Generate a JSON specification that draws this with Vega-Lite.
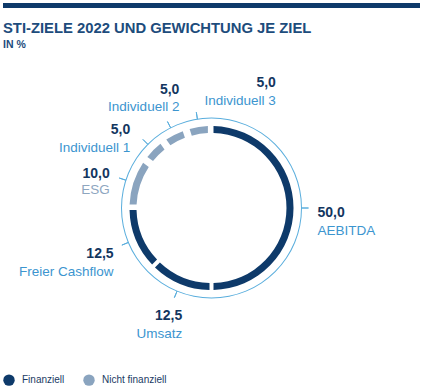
{
  "$schema": "https://vega.github.io/schema/vega-lite/v6.json",
  "background": "white",
  "padding": {"left": 3, "top": 3, "right": 0, "bottom": 0},
  "spacing": 12,
  "config": {
    "view": {"stroke": null},
    "font": "Liberation Sans",
    "locale": {"number": {"decimal": ",", "thousands": ".", "grouping": [3], "currency": ["", " €"]}}
  },
  "datasets": {
    "ziele": [
      {"nr": 1, "ziel": "AEBITDA", "wert": 50.0, "art": "Finanziell"},
      {"nr": 2, "ziel": "Umsatz", "wert": 12.5, "art": "Finanziell"},
      {"nr": 3, "ziel": "Freier Cashflow", "wert": 12.5, "art": "Finanziell"},
      {"nr": 4, "ziel": "ESG", "wert": 10.0, "art": "Nicht finanziell"},
      {"nr": 5, "ziel": "Individuell 1", "wert": 5.0, "art": "Nicht finanziell"},
      {"nr": 6, "ziel": "Individuell 2", "wert": 5.0, "art": "Nicht finanziell"},
      {"nr": 7, "ziel": "Individuell 3", "wert": 5.0, "art": "Nicht finanziell"}
    ]
  },
  "vconcat": [
    {
      "width": 417,
      "height": 5,
      "data": {"values": [{"balken": 1}]},
      "mark": {"type": "rect", "color": "#0e3a6a"},
      "encoding": {}
    },
    {
      "width": 417,
      "height": 308,
      "data": {"name": "ziele"},
      "title": {
        "text": "STI-ZIELE 2022 UND GEWICHTUNG JE ZIEL",
        "subtitle": "IN %",
        "anchor": "start",
        "frame": "group",
        "fontSize": 14.8,
        "fontWeight": "bold",
        "color": "#1d4c7c",
        "subtitleFontSize": 10.5,
        "subtitleFontWeight": "bold",
        "subtitleColor": "#1d4c7c",
        "subtitlePadding": 4,
        "offset": 4
      },
      "transform": [
        {"window": [{"op": "sum", "field": "wert", "as": "ende"}], "sort": [{"field": "nr"}], "frame": [null, 0]},
        {"calculate": "datum.ende - datum.wert", "as": "start"},
        {"calculate": "datum.ende - datum.wert / 2", "as": "mitte"}
      ],
      "layer": [
        {
          "transform": [{"aggregate": [{"op": "sum", "field": "wert", "as": "summe"}]}],
          "mark": {"type": "arc", "innerRadius": 89.5, "outerRadius": 90.5, "fill": "#5aaedd"},
          "encoding": {
            "theta": {"field": "summe", "type": "quantitative", "scale": {"domain": [0, 100]}}
          }
        },
        {
          "transform": [{"filter": "datum.art == 'Finanziell'"}],
          "mark": {"type": "arc", "innerRadius": 75, "outerRadius": 82, "padAngle": 0.036},
          "encoding": {
            "theta": {"field": "start", "type": "quantitative", "stack": null, "scale": {"domain": [0, 100]}},
            "theta2": {"field": "ende"},
            "color": {
              "field": "art",
              "type": "nominal",
              "scale": {"domain": ["Finanziell", "Nicht finanziell"], "range": ["#0e3a6a", "#8aa4bf"]},
              "legend": {
                "orient": "none",
                "legendX": 0,
                "legendY": 371,
                "direction": "horizontal",
                "title": null,
                "padding": 0,
                "symbolType": "circle",
                "symbolSize": 130,
                "symbolStrokeWidth": 0,
                "labelFontSize": 10,
                "labelColor": "#1a3a63",
                "labelOffset": 7,
                "columnPadding": 18
              }
            }
          }
        },
        {
          "transform": [{"filter": "datum.art == 'Nicht finanziell'"}],
          "mark": {"type": "arc", "innerRadius": 75, "outerRadius": 82, "padAngle": 0.065},
          "encoding": {
            "theta": {"field": "start", "type": "quantitative", "stack": null, "scale": {"domain": [0, 100]}},
            "theta2": {"field": "ende"},
            "color": {"field": "art", "type": "nominal"}
          }
        },
        {
          "mark": {"type": "arc", "innerRadius": 90, "outerRadius": 97, "fillOpacity": 0, "stroke": "#5aaedd", "strokeWidth": 1},
          "encoding": {
            "theta": {"field": "mitte", "type": "quantitative", "stack": null, "scale": {"domain": [0, 100]}},
            "theta2": {"field": "mitte"}
          }
        },
        {
          "mark": {
            "type": "text",
            "radius": 100,
            "fontSize": 14,
            "fontWeight": "bold",
            "baseline": "middle",
            "color": "#13365f",
            "align": {"expr": "datum.ziel == 'AEBITDA' ? 'left' : 'right'"},
            "dx": {"expr": "datum.ziel == 'AEBITDA' ? 6 : datum.ziel == 'Umsatz' ? 9 : datum.ziel == 'Freier Cashflow' ? -5.5 : datum.ziel == 'ESG' ? -6.6 : datum.ziel == 'Individuell 1' ? -10.5 : datum.ziel == 'Individuell 2' ? 13.3 : 80"},
            "dy": {"expr": "datum.ziel == 'AEBITDA' ? 5 : datum.ziel == 'Umsatz' ? 15.4 : datum.ziel == 'Freier Cashflow' ? 7.8 : datum.ziel == 'ESG' ? -3.3 : datum.ziel == 'Individuell 1' ? -6.8 : datum.ziel == 'Individuell 2' ? -28.8 : -26.1"}
          },
          "encoding": {
            "theta": {"field": "mitte", "type": "quantitative", "stack": null, "scale": {"domain": [0, 100]}},
            "text": {"field": "wert", "type": "quantitative", "format": ".1f"}
          }
        },
        {
          "mark": {
            "type": "text",
            "radius": 100,
            "fontSize": 13.5,
            "baseline": "middle",
            "align": {"expr": "datum.ziel == 'AEBITDA' ? 'left' : 'right'"},
            "dx": {"expr": "datum.ziel == 'AEBITDA' ? 6 : datum.ziel == 'Umsatz' ? 9 : datum.ziel == 'Freier Cashflow' ? -5.5 : datum.ziel == 'ESG' ? -6.6 : datum.ziel == 'Individuell 1' ? -10.5 : datum.ziel == 'Individuell 2' ? 13.3 : 80"},
            "dy": {"expr": "datum.ziel == 'AEBITDA' ? 23.1 : datum.ziel == 'Umsatz' ? 33.4 : datum.ziel == 'Freier Cashflow' ? 25.5 : datum.ziel == 'ESG' ? 13 : datum.ziel == 'Individuell 1' ? 10.5 : datum.ziel == 'Individuell 2' ? -11.6 : -7.9"}
          },
          "encoding": {
            "theta": {"field": "mitte", "type": "quantitative", "stack": null, "scale": {"domain": [0, 100]}},
            "text": {"field": "ziel", "type": "nominal"},
            "color": {"condition": {"test": "datum.ziel == 'ESG'", "value": "#8ea6bf"}, "value": "#3c95cf"}
          }
        }
      ]
    }
  ]
}
